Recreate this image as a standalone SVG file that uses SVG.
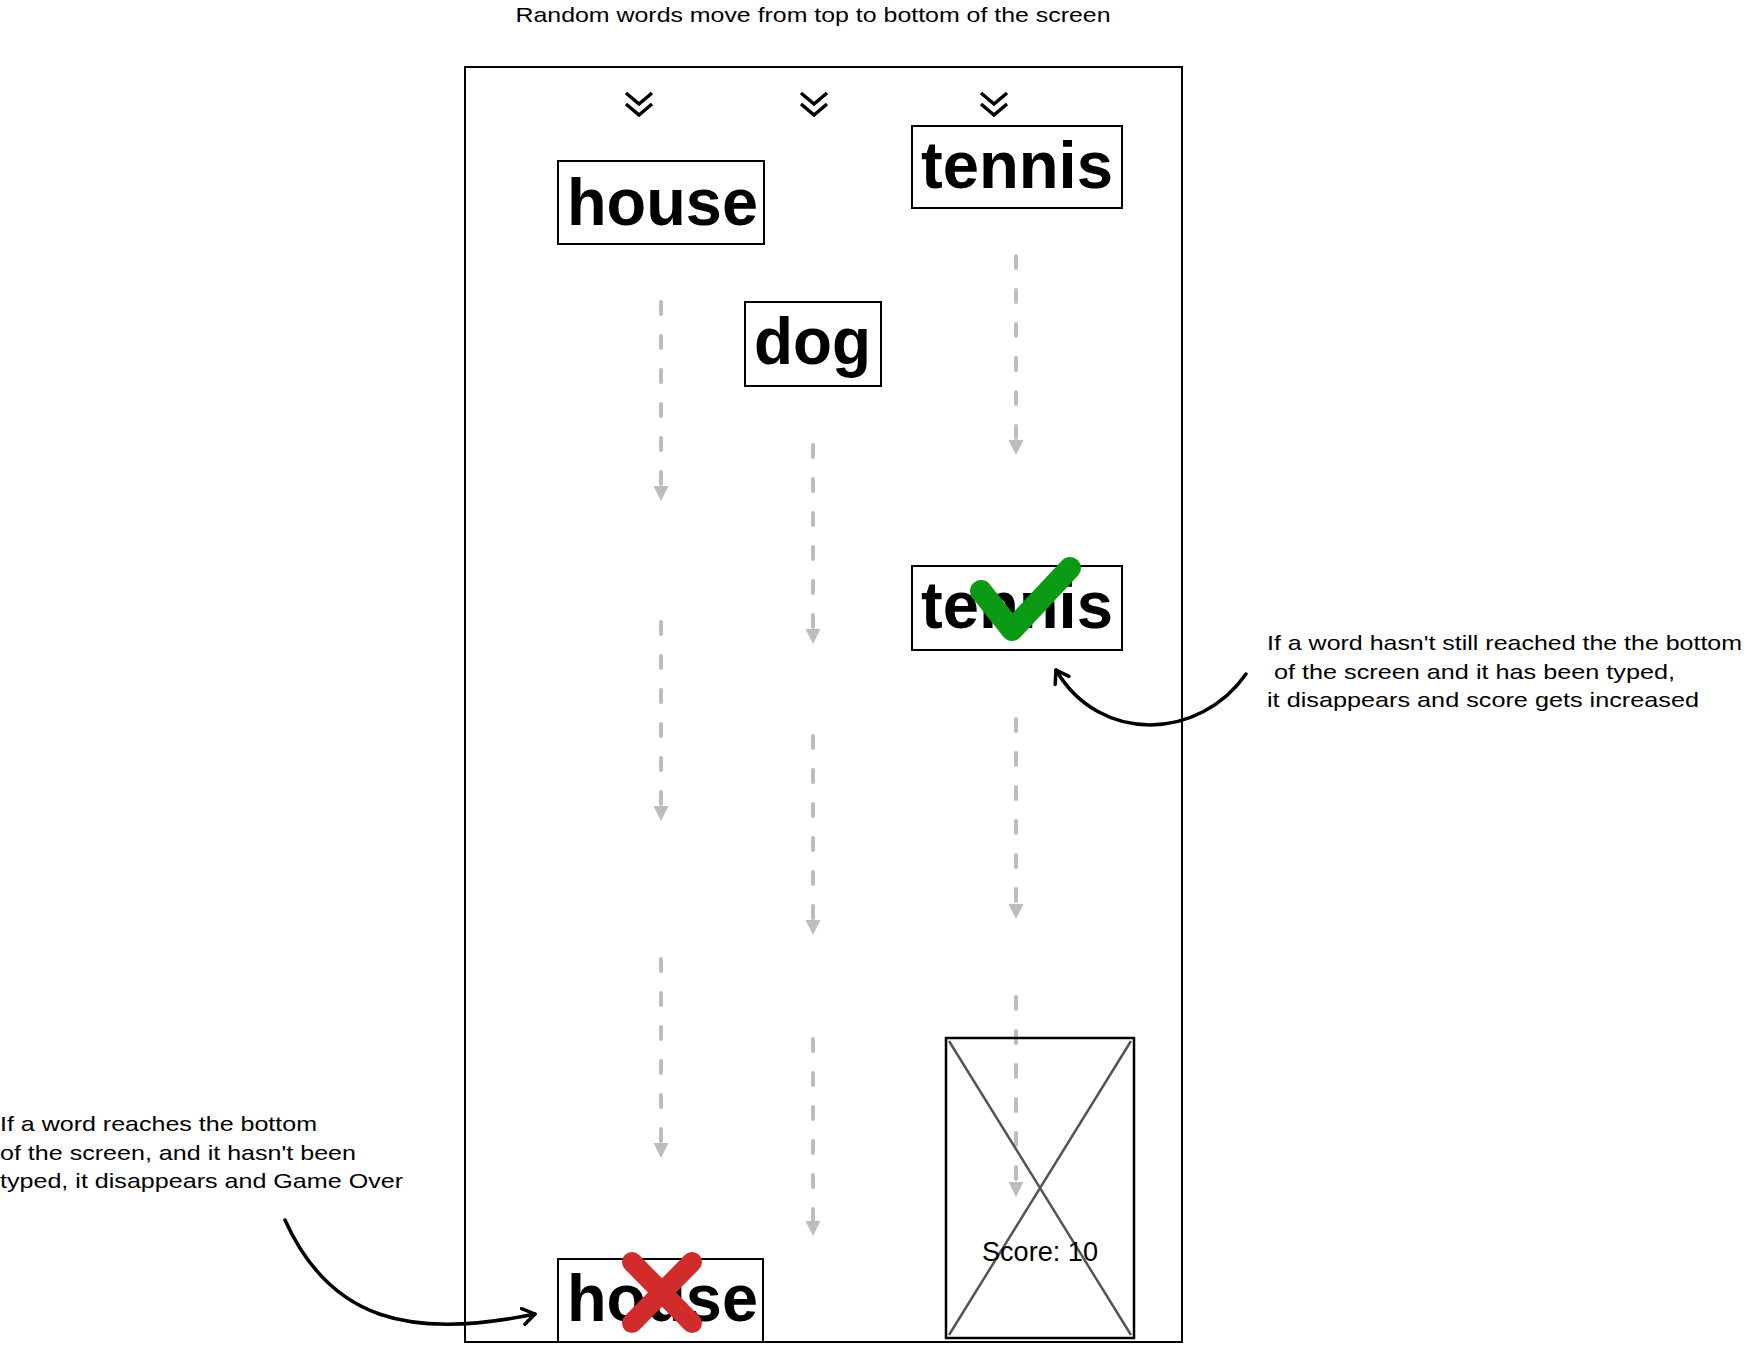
<svg xmlns="http://www.w3.org/2000/svg" width="1744" height="1353" viewBox="0 0 1744 1353">
<style>
.lbl{font-family:"Liberation Sans",Arial,sans-serif;font-size:21px;fill:#000}
.word{font-family:"Liberation Sans",Arial,sans-serif;font-size:66px;font-weight:bold;fill:#000}
.box{fill:#fff;stroke:#000;stroke-width:2}
.flow{stroke:#bdbdbd;stroke-width:4;stroke-linecap:round;stroke-dasharray:12 22;fill:none}
.chev{fill:none;stroke:#000;stroke-width:3.5}
.curve{fill:none;stroke:#000;stroke-width:3.5;stroke-linecap:round}
</style>
<defs>
<marker id="ga" markerUnits="userSpaceOnUse" markerWidth="18" markerHeight="18" refX="14" refY="8" orient="auto">
<path d="M0,0.5 L15,8 L0,15.5 Z" fill="#bdbdbd"/>
</marker>
<marker id="ba" markerUnits="userSpaceOnUse" markerWidth="24" markerHeight="24" refX="14" refY="10" orient="auto">
<path d="M2,2 L14,10 L2,18" fill="none" stroke="#000" stroke-width="3.5" stroke-linecap="round" stroke-linejoin="round"/>
</marker>
</defs>
<rect width="1744" height="1353" fill="#fff"/>

<g id="title"><text class="lbl" x="813" y="22" text-anchor="middle" textLength="595" lengthAdjust="spacingAndGlyphs">Random words move from top to bottom of the screen</text></g>

<g id="screen"><rect x="465" y="67" width="717" height="1275" fill="none" stroke="#000" stroke-width="2"/></g>

<g id="chevrons">
<path class="chev" d="M626,93 L639,104 L652,93 M626,104 L639,115 L652,104"/>
<path class="chev" d="M801,93 L814,104 L827,93 M801,104 L814,115 L827,104"/>
<path class="chev" d="M981,93 L994,104 L1007,93 M981,104 L994,115 L1007,104"/>
</g>

<g id="connectors">
<line class="flow" x1="661" y1="302" x2="661" y2="500" marker-end="url(#ga)"/>
<line class="flow" x1="661" y1="622" x2="661" y2="820" marker-end="url(#ga)"/>
<line class="flow" x1="661" y1="959" x2="661" y2="1157" marker-end="url(#ga)"/>
<line class="flow" x1="813" y1="445" x2="813" y2="643" marker-end="url(#ga)"/>
<line class="flow" x1="813" y1="736" x2="813" y2="934" marker-end="url(#ga)"/>
<line class="flow" x1="813" y1="1039" x2="813" y2="1235" marker-end="url(#ga)"/>
<line class="flow" x1="1016" y1="256" x2="1016" y2="454" marker-end="url(#ga)"/>
<line class="flow" x1="1016" y1="719" x2="1016" y2="918" marker-end="url(#ga)"/>
<line class="flow" x1="1016" y1="997" x2="1016" y2="1196" marker-end="url(#ga)"/>
<path class="curve" d="M1246,674 C1200,740 1100,745 1056,670" marker-end="url(#ba)"/>
<path class="curve" d="M285,1220 C330,1320 410,1340 535,1314" marker-end="url(#ba)"/>
</g>

<g id="house-top"><rect class="box" x="558" y="161" width="206" height="83"/><text class="word" x="567" y="225" textLength="191" lengthAdjust="spacingAndGlyphs">house</text></g>
<g id="tennis-top"><rect class="box" x="912" y="126" width="210" height="82"/><text class="word" x="921" y="188" textLength="192" lengthAdjust="spacingAndGlyphs">tennis</text></g>
<g id="dog"><rect class="box" x="745" y="302" width="136" height="84"/><text class="word" x="754" y="364" textLength="117" lengthAdjust="spacingAndGlyphs">dog</text></g>
<g id="tennis-typed"><rect class="box" x="912" y="566" width="210" height="84"/><text class="word" x="921" y="628" textLength="192" lengthAdjust="spacingAndGlyphs">tennis</text>
<path d="M981,591 L1012,630 L1070,568" fill="none" stroke="#0a9a14" stroke-width="22" stroke-linecap="round" stroke-linejoin="round"/></g>
<g id="house-missed"><rect class="box" x="558" y="1259" width="205" height="83"/><text class="word" x="567" y="1321" textLength="191" lengthAdjust="spacingAndGlyphs">house</text>
<path d="M632,1262 L692,1323 M692,1262 L632,1323" fill="none" stroke="#d22b2b" stroke-width="20" stroke-linecap="round"/></g>

<g id="score"><rect x="946" y="1038" width="188" height="300" fill="none" stroke="#000" stroke-width="2.5"/>
<path d="M949,1041 L1131,1335 M1131,1041 L949,1335" stroke="#555" stroke-width="2.5" fill="none"/>
<text x="1040" y="1261" text-anchor="middle" font-family="Liberation Sans,Arial,sans-serif" font-size="27" textLength="116" lengthAdjust="spacingAndGlyphs" fill="#000">Score: 10</text></g>

<g id="note-right">
<text class="lbl" x="1267" y="650" textLength="475" lengthAdjust="spacingAndGlyphs">If a word hasn't still reached the the bottom</text>
<text class="lbl" x="1274" y="679" textLength="401" lengthAdjust="spacingAndGlyphs">of the screen and it has been typed,</text>
<text class="lbl" x="1267" y="707" textLength="432" lengthAdjust="spacingAndGlyphs">it disappears and score gets increased</text>
</g>
<g id="note-left">
<text class="lbl" x="0" y="1131" textLength="317" lengthAdjust="spacingAndGlyphs">If a word reaches the bottom</text>
<text class="lbl" x="0" y="1160" textLength="356" lengthAdjust="spacingAndGlyphs">of the screen, and it hasn't been</text>
<text class="lbl" x="0" y="1188" textLength="403" lengthAdjust="spacingAndGlyphs">typed, it disappears and Game Over</text>
</g>
</svg>
